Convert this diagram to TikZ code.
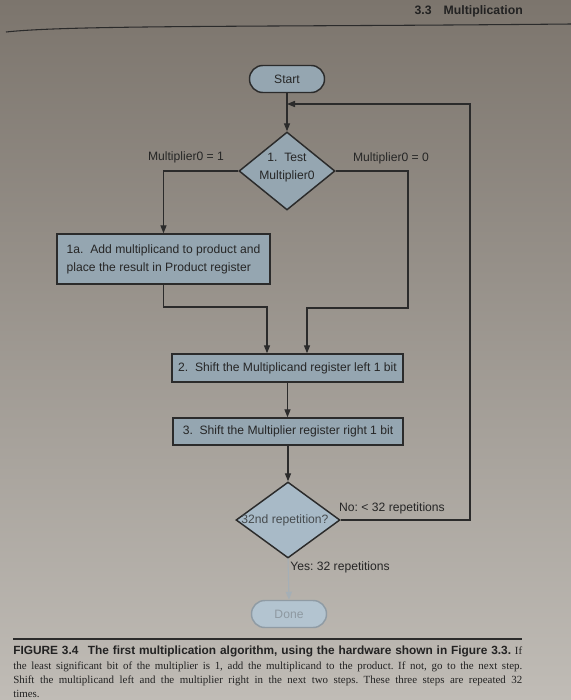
\documentclass[tikz,border=0pt]{standalone}
\usepackage{fontspec}
\setmainfont{Liberation Serif}
\setsansfont{Liberation Sans}
\usetikzlibrary{arrows.meta,shapes.geometric,calc}
\definecolor{pgtop}{HTML}{7C756D}
\definecolor{pgmid}{HTML}{B3AFA9}
\definecolor{pgbot}{HTML}{C0BCB6}
\definecolor{linec}{HTML}{2B2B2B}
\definecolor{txtc}{HTML}{262626}
\definecolor{boxf}{HTML}{95A6B1}
\definecolor{boxf2}{HTML}{A8BAC7}
\definecolor{donef}{HTML}{B3C4D0}
\definecolor{donel}{HTML}{8F9BA4}
\definecolor{donet}{HTML}{8E99A1}
\definecolor{capc}{HTML}{222222}
\newcommand{\dfont}{\sffamily\fontsize{9.1}{13.5}\selectfont}
\frenchspacing
\tikzset{
  ln/.style={draw=linec, line width=0.8pt},
  arr/.style={ln, -{Triangle[length=6pt,width=4.6pt]}},
  boxs/.style={rectangle, draw=linec, line width=1.1pt, fill=boxf, inner sep=0pt, font=\dfont, text=txtc},
  term/.style={boxs, rounded corners=10pt, minimum width=56.25pt, minimum height=20.25pt},
  dia/.style={diamond, draw=linec, line width=1.1pt, fill=boxf, inner sep=0pt},
  lbl/.style={font=\dfont, text=txtc, inner sep=0pt},
  capline/.style={anchor=west, inner sep=0pt, text=capc, text height=1.6ex, text depth=0.3ex},
}
\begin{document}
\begin{tikzpicture}[x=0.75pt,y=-0.75pt]
\useasboundingbox (0,0) rectangle (571,700);
\shade[top color=pgtop, middle color=pgmid, bottom color=pgbot] (0,0) rectangle (571,700);

% running head
\node[anchor=east, inner sep=0pt, font=\sffamily\bfseries\fontsize{9.2}{11}\selectfont, text=capc] (head) at (523,11) {3.3\hspace{9pt}Multiplication};
\draw[line width=0.8pt, draw=linec] (6,32) .. controls (70,25) and (260,27) .. (571,24);

% nodes
\node[term] (start) at (287,79) {Start};
\node[dia, minimum width=72pt, minimum height=58.5pt] (test) at (287,171) {};
\node[lbl, align=center] (testtxt) at (287,167.5) {1.\ \ Test\\Multiplier0};
\node[boxs, minimum width=159.75pt, minimum height=37.5pt, align=left] (add) at (163.5,259) {1a.\ \ Add multiplicand to product and\\place the result in Product register};
\node[boxs, minimum width=173.25pt, minimum height=21pt] (shl) at (287.5,368) {2.\ \ Shift the Multiplicand register left 1 bit};
\node[boxs, minimum width=172.5pt, minimum height=20.25pt] (shr) at (288,431.5) {3.\ \ Shift the Multiplier register right 1 bit};
\node[dia, fill=boxf2, minimum width=78pt, minimum height=57pt] (rep) at (288,520) {};
\node[lbl, text=txtc!75!boxf2] (reptxt) at (285,520) {32nd repetition?};
\node[term, fill=donef, draw=donel, text=donet] (done) at (289,614) {Done};

% labels
\node[lbl] (l1) at (186,157) {Multiplier0 = 1};
\node[lbl] (l0) at (391,158) {Multiplier0 = 0};
\node[lbl] (lno) at (392,508) {No: < 32 repetitions};
\node[lbl, anchor=east] (lyes) at (390,567) {Yes: 32 repetitions};

% helper coordinates
\coordinate (loopin) at (287,104);
\coordinate (rtop) at (470,104);
\coordinate (rb) at (408,308);
\coordinate (rbl) at (307,308);
\coordinate (lb) at (267,307);

% connectors
\draw[arr] (start) -- (test);
\draw[arr] (test.west) -| (add.north);
\draw[arr] (test.east) -| (rb) -- (rbl) -- (rbl |- shl.north);
\draw[arr] (add.south) |- (lb) -- (lb |- shl.north);
\draw[arr] (shl.south) -- (shr.north -| shl.south);
\draw[arr] (shr.south) -- (rep.north);
\draw[arr] (rep.east) -| (rtop) -- (loopin);
\draw[arr, draw=donel!80!white] (rep.south) -- (done.north);

% caption
\draw[line width=0.8pt, draw=linec] (13,639) -- (522,639);
\node[capline] (c1) at (13,651) {\makebox[381.75pt][s]{\sffamily\bfseries\fontsize{8.9}{10}\selectfont FIGURE 3.4\hspace{7pt}The first multiplication algorithm, using the hardware shown in Figure 3.3. \rmfamily\mdseries\fontsize{8.2}{10}\selectfont If}};
\node[capline] (c2) at (13,665.5) {\fontsize{8.2}{10}\selectfont\makebox[381.75pt][s]{the least significant bit of the multiplier is 1, add the multiplicand to the product. If not, go to the next step.}};
\node[capline] (c3) at (13,680) {\fontsize{8.2}{10}\selectfont\makebox[381.75pt][s]{Shift the multiplicand left and the multiplier right in the next two steps. These three steps are repeated 32}};
\node[capline] (c4) at (13,694) {\fontsize{8.2}{10}\selectfont times.};
\end{tikzpicture}
\end{document}
